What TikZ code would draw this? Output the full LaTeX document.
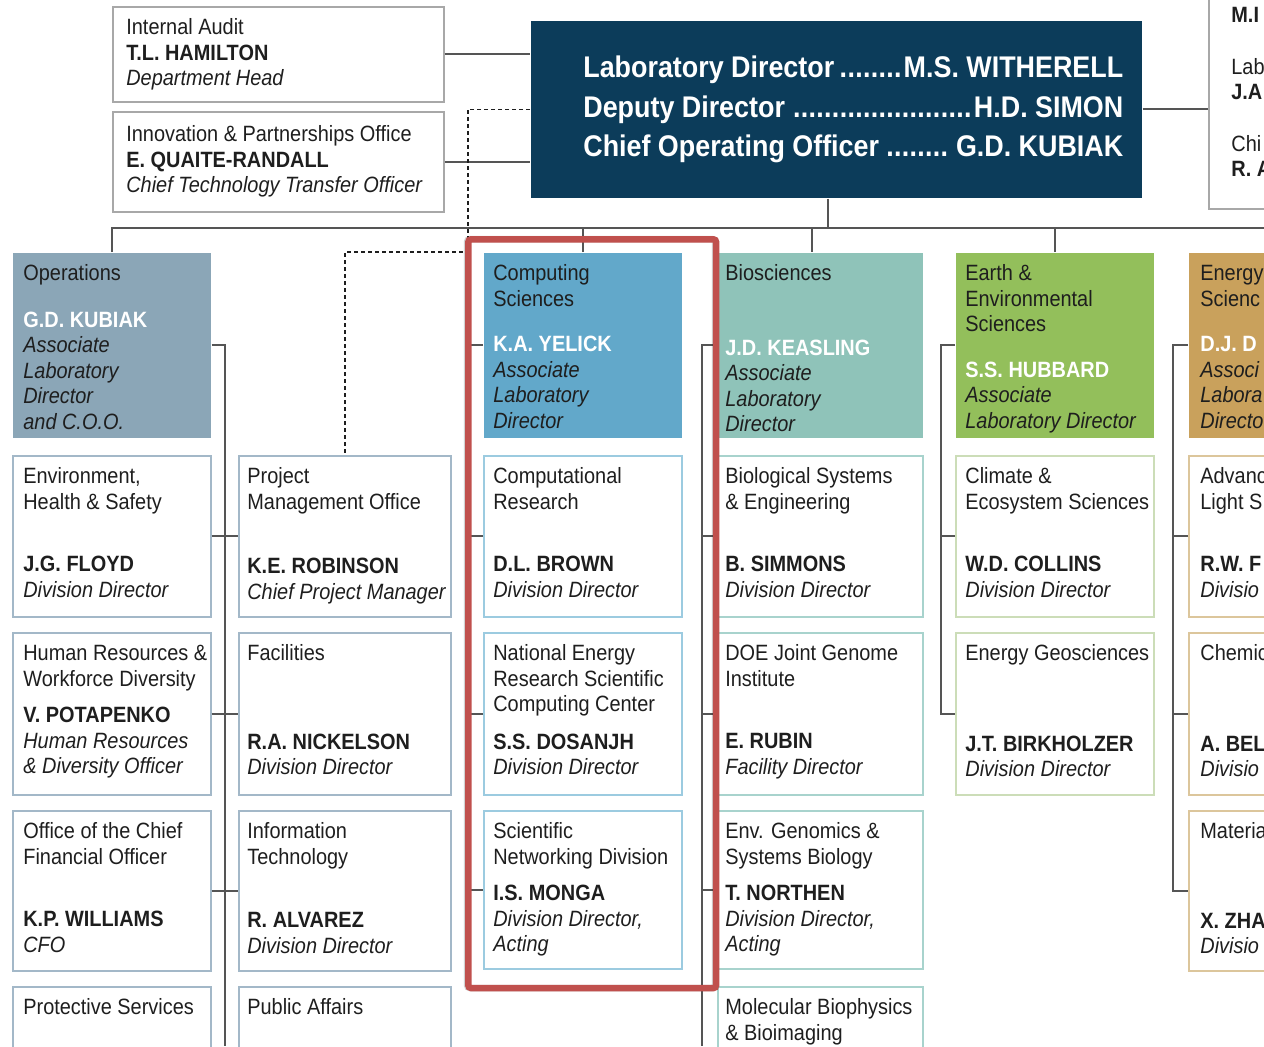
\documentclass[tikz,border=0pt]{standalone}
\usepackage{fontspec}
\setmainfont{Liberation Sans}[FakeStretch=0.9]

\definecolor{ink}{HTML}{1E1E1E}
\definecolor{link}{HTML}{555555}
\definecolor{topline}{HTML}{A8A8A8}
\definecolor{dirfill}{HTML}{0C3C5A}
\definecolor{opsfill}{HTML}{8BA6B7}
\definecolor{opsline}{HTML}{A3B8C8}
\definecolor{csfill}{HTML}{62A8CA}
\definecolor{csline}{HTML}{9CCBE0}
\definecolor{biofill}{HTML}{8FC3B9}
\definecolor{bioline}{HTML}{A8D3CD}
\definecolor{earthfill}{HTML}{93BF5B}
\definecolor{earthline}{HTML}{CCDDB8}
\definecolor{enfill}{HTML}{C9A15C}
\definecolor{enline}{HTML}{DCC69C}
\definecolor{hlred}{HTML}{C0504D}

\newdimen\px \px=0.02cm
\newcommand{\nm}[1]{\textbf{#1}}
\newcommand{\rl}[1]{\textit{#1}}
\newcommand{\hn}[1]{\textcolor{white}{\textbf{#1}}}
\newcommand{\dirline}[2]{\hbox to 10.8cm{#1\leaders\hbox to 0.26em{\hss.\hss}\hfill#2}}
% box + its text block
\newcommand{\orgunit}[7][10]{%
  \node[#3, minimum height=#6*0.02cm] (#2) at (#4,#5) {};
  \node[txt] (#2-t) at ([xshift=#1*0.02cm]#2.north west) {\rule{0pt}{28\px}#7};}

\begin{document}
\begin{tikzpicture}[x=0.02cm, y=-0.02cm,
    font=\fontsize{12.6pt}{14.6pt}\selectfont,
    box/.style={anchor=north west, inner sep=0pt, line width=1pt},
    txt/.style={anchor=north west, inner sep=0pt, align=left, text=ink},
    topunit/.style={box, draw=topline, minimum width=6.62cm},
    opsunit/.style={box, draw=opsline, minimum width=3.96cm},
    pmounit/.style={box, draw=opsline, minimum width=4.24cm},
    opshead/.style={box, fill=opsfill, minimum width=3.96cm},
    csunit/.style={box, draw=csline, minimum width=3.96cm},
    cshead/.style={box, fill=csfill, minimum width=3.96cm},
    biounit/.style={box, draw=bioline, minimum width=4.10cm},
    biohead/.style={box, fill=biofill, minimum width=4.10cm},
    earthunit/.style={box, draw=earthline, minimum width=3.96cm},
    earthhead/.style={box, fill=earthfill, minimum width=3.96cm},
    enunit/.style={box, draw=enline, minimum width=3.96cm},
    enhead/.style={box, fill=enfill, minimum width=3.96cm},
    dirbox/.style={box, fill=dirfill, minimum width=12.22cm, minimum height=3.54cm},
    dirtext/.style={inner sep=0pt, align=left, text=white,
      font=\fontsize{17pt}{22.4pt}\selectfont\bfseries},
    link/.style={draw=link, line width=1.1pt},
    dotlink/.style={draw=ink, line width=0.8pt, dash pattern=on 0.08cm off 0.06cm},
    focus/.style={box, draw=hlred, line width=0.13cm, rounded corners=0.06cm,
      minimum width=4.96cm, minimum height=14.98cm}]

    \useasboundingbox (0,0) rectangle (1264,1046);
    \clip (0,0) rectangle (1264,1046);

    % top level
    \node[dirbox] (dir) at (530,20) {};
    \node[dirtext, anchor=west] (dir-t) at ([xshift=1.06cm]dir.west)
      {\dirline{Laboratory Director}{M.S. WITHERELL}\\
       \dirline{Deputy Director }{H.D. SIMON}\\
       \dirline{Chief Operating Officer}{ G.D. KUBIAK}};

    \orgunit[14]{audit}{topunit}{112}{6}{95}{Internal Audit\\\nm{T.L. HAMILTON}\\\rl{Department Head}}
    \orgunit[14]{innov}{topunit}{112}{111}{100}{\rule{0pt}{30\px}Innovation \& Partnerships Office\\\nm{E. QUAITE-RANDALL}\\\rl{Chief Technology Transfer Officer}}
    \orgunit[23]{ext}{box, draw=topline, minimum width=4cm}{1208}{-6}{214}{\nm{M.I}\\[26\px]Lab\\\nm{J.A}\\[26\px]Chi\\\nm{R. A}}

    % operations
    \orgunit[11]{ops}{opshead}{12}{252}{185}{Operations\\[21\px]\hn{G.D. KUBIAK}\\\rl{Associate}\\\rl{Laboratory}\\\rl{Director}\\\rl{and C.O.O.}}
    \orgunit[11]{ehs}{opsunit}{12}{455}{161}{Environment,\\Health \& Safety\\[37\px]\nm{J.G. FLOYD}\\\rl{Division Director}}
    \orgunit[11]{hr}{opsunit}{12}{632}{162}{Human Resources \&\\Workforce Diversity\\[11\px]\nm{V. POTAPENKO}\\\rl{Human Resources}\\\rl{\& Diversity Officer}}
    \orgunit[11]{cfo}{opsunit}{12}{810}{160}{Office of the Chief\\Financial Officer\\[37\px]\nm{K.P. WILLIAMS}\\\rl{CFO}}
    \orgunit[11]{prot}{opsunit}{12}{986}{160}{Protective Services}
    \orgunit[9]{pmo}{pmounit}{238}{455}{161}{Project\\Management Office\\[39\px]\nm{K.E. ROBINSON}\\\rl{Chief Project Manager}}
    \orgunit[9]{fac}{pmounit}{238}{632}{162}{Facilities\\[63\px]\nm{R.A. NICKELSON}\\\rl{Division Director}}
    \orgunit[9]{it}{pmounit}{238}{810}{160}{Information\\Technology\\[38\px]\nm{R. ALVAREZ}\\\rl{Division Director}}
    \orgunit[9]{pa}{pmounit}{238}{986}{160}{Public Affairs}

    % computing sciences
    \orgunit{cs}{cshead}{483}{252}{185}{Computing\\Sciences\\[20\px]\hn{K.A. YELICK}\\\rl{Associate}\\\rl{Laboratory}\\\rl{Director}}
    \orgunit{cr}{csunit}{483}{455}{161}{Computational\\Research\\[37\px]\nm{D.L. BROWN}\\\rl{Division Director}}
    \orgunit{nersc}{csunit}{483}{632}{162}{National Energy\\Research Scientific\\Computing Center\\[12\px]\nm{S.S. DOSANJH}\\\rl{Division Director}}
    \orgunit{sn}{csunit}{483}{810}{158}{Scientific\\Networking Division\\[11\px]\nm{I.S. MONGA}\\\rl{Division Director,}\\\rl{Acting}}

    % biosciences
    \orgunit[8]{bio}{biohead}{717}{252}{185}{Biosciences\\[49\px]\hn{J.D. KEASLING}\\\rl{Associate}\\\rl{Laboratory}\\\rl{Director}}
    \orgunit[8]{bse}{biounit}{717}{455}{161}{Biological Systems\\\& Engineering\\[37\px]\nm{B. SIMMONS}\\\rl{Division Director}}
    \orgunit[8]{jgi}{biounit}{717}{632}{162}{DOE Joint Genome\\Institute\\[37\px]\nm{E. RUBIN}\\\rl{Facility Director}}
    \orgunit[8]{egsb}{biounit}{717}{810}{158}{Env. Genomics \&\\Systems Biology\\[11\px]\nm{T. NORTHEN}\\\rl{Division Director,}\\\rl{Acting}}
    \orgunit[8]{mbib}{biounit}{717}{986}{160}{Molecular Biophysics\\\& Bioimaging}

    % earth & environmental sciences
    \orgunit{earth}{earthhead}{955}{252}{185}{Earth \&\\Environmental\\Sciences\\[20\px]\hn{S.S. HUBBARD}\\\rl{Associate}\\\rl{Laboratory Director}}
    \orgunit{ces}{earthunit}{955}{455}{161}{Climate \&\\Ecosystem Sciences\\[37\px]\nm{W.D. COLLINS}\\\rl{Division Director}}
    \orgunit{eg}{earthunit}{955}{632}{162}{Energy Geosciences\\[65\px]\nm{J.T. BIRKHOLZER}\\\rl{Division Director}}

    % energy sciences (cut by the edge)
    \orgunit[12]{energy}{enhead}{1188}{252}{185}{Energy\\Scienc\\[20\px]\hn{D.J. D}\\\rl{Associ}\\\rl{Labora}\\\rl{Directo}}
    \orgunit[12]{als}{enunit}{1188}{455}{161}{Advanc\\Light S\\[37\px]\nm{R.W. F}\\\rl{Divisio}}
    \orgunit[12]{chem}{enunit}{1188}{632}{162}{Chemic\\[65\px]\nm{A. BEL}\\\rl{Divisio}}
    \orgunit[12]{mat}{enunit}{1188}{810}{160}{Materia\\[64\px]\nm{X. ZHA}\\\rl{Divisio}}

    % reporting lines
    \coordinate (busR) at (1264,228);
    \coordinate (dirdrop) at (828,228);
    \coordinate (biodrop) at (812,228);
    \coordinate (dotturn) at (468,252);
    \coordinate (opsend) at (225,1046);
    \coordinate (csx) at (470,0);
    \coordinate (bioend) at (702,1046);
    \coordinate (earthx) at (941,0);
    \coordinate (enx) at (1173,0);

    \draw[link] (ops.north) |- (busR);
    \draw[link] (dir.south -| dirdrop) -- (dirdrop);
    \foreach \h in {cs,earth}
      \draw[link] (\h.north) -- (\h.north |- busR);
    \draw[link] (biodrop) -- (bio.north -| biodrop);
    \draw[link] (audit.east) -- (audit.east -| dir.west);
    \draw[link] (innov.east) -- (innov.east -| dir.west);
    \draw[link] (dir.east) -- (dir.east -| ext.west);
    \draw[dotlink] (dir.west) -| (dotturn) -| (pmo.north);

    \draw[link] (ops.east) -| (opsend);
    \foreach \a/\b in {ehs/pmo,hr/fac,cfo/it,prot/pa}
      \draw[link] (\a.east) -- (\b.west);

    \draw[link] (cs.west) -| (sn.west -| csx) -- (sn.west);
    \foreach \u in {cr,nersc}
      \draw[link] (\u.west) -- (\u.west -| csx);

    \draw[link] (bio.west) -| (bioend);
    \foreach \u in {bse,jgi,egsb}
      \draw[link] (\u.west) -- (\u.west -| bioend);

    \draw[link] (earth.west) -| (eg.west -| earthx) -- (eg.west);
    \draw[link] (ces.west) -- (ces.west -| earthx);

    \draw[link] (energy.west) -| (mat.west -| enx) -- (mat.west);
    \foreach \u in {als,chem}
      \draw[link] (\u.west) -- (\u.west -| enx);

    % highlight
    \draw[black, opacity=0.18, line width=0.13cm, rounded corners=0.06cm] (467,239) rectangle (715,988);
    \node[focus] (focus) at (465,236) {};
\end{tikzpicture}
\end{document}
